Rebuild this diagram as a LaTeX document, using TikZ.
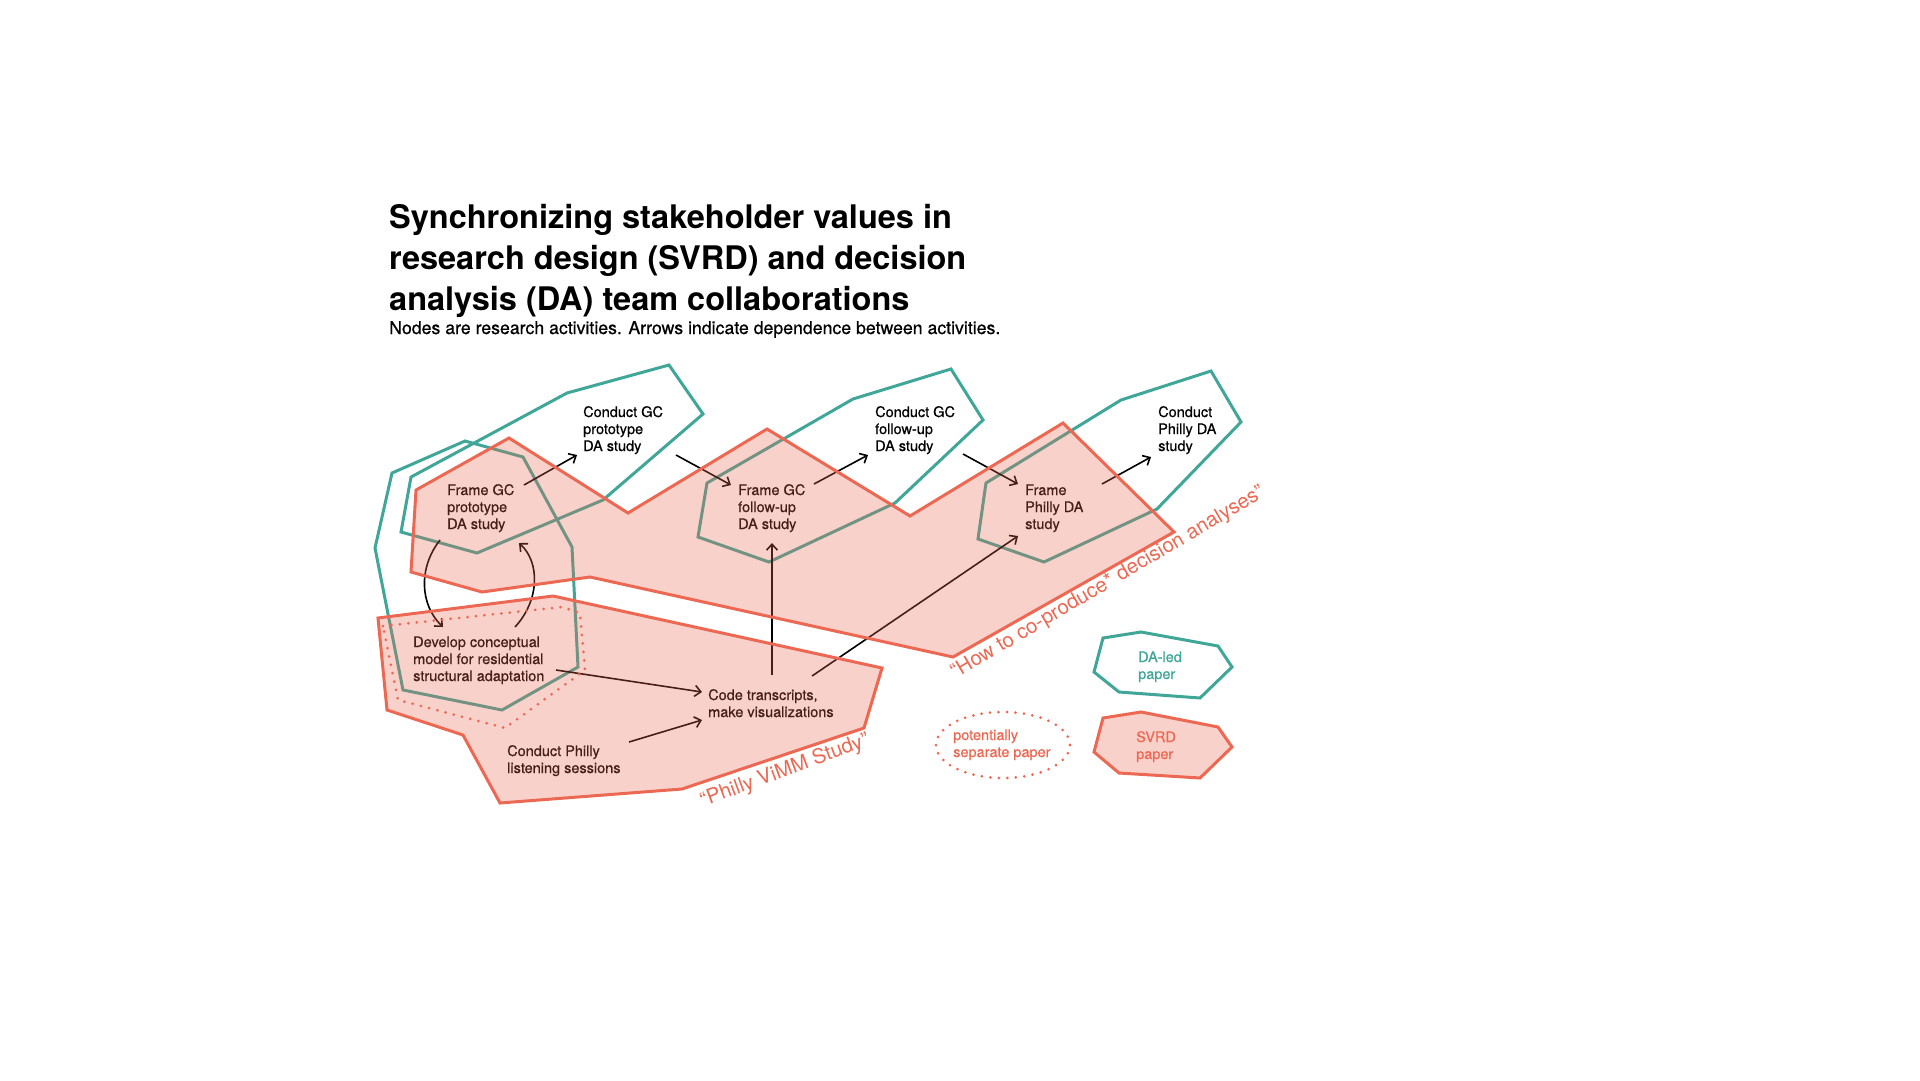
\documentclass[tikz,border=0pt]{standalone}
\usepackage{fontspec}
\setmainfont{TeX Gyre Heros}
\newfontfamily\medfont[FakeBold=0.6]{TeX Gyre Heros}
\usetikzlibrary{arrows.meta}
\definecolor{tealc}{HTML}{40A698}
\definecolor{salm}{HTML}{EC6852}
\begin{document}
\begin{tikzpicture}[x=1pt,y=-1pt,
  tealline/.style={draw=tealc,line width=3pt},
  svrd/.style={draw=salm,line width=3pt,fill=salm,fill opacity=0.3},
  dotline/.style={draw=salm,line width=3pt,dash pattern=on 0pt off 8.5pt,line cap=round},
  lbl/.style={anchor=base west,align=left,inner sep=0pt,font=\medfont\fontsize{14.5}{17}\selectfont},
  leg/.style={anchor=base west,align=left,inner sep=0pt,font=\medfont\fontsize{14.5}{17}\selectfont},
  arr/.style={draw=black,line width=1.6pt,-{Straight Barb[length=6pt,width=11pt]}},
  ]
\useasboundingbox (0,0) rectangle (1920,1080);

% title (base anchor = baseline of last line)
\node[anchor=base west,align=left,inner sep=0pt,font=\bfseries\fontsize{32.5}{41}\selectfont] (title) at (389,310)
  {Synchronizing stakeholder values in\\research design (SVRD) and decision\\analysis (DA) team collaborations};
\node[anchor=base west,inner sep=0pt,font=\medfont\fontsize{17.7}{20}\selectfont] (sub) at (389,334)
  {Nodes are research activities. Arrows indicate dependence between activities.};

% teal (DA-led) outlines
\draw[tealline] (669,365)--(703,414)--(603,500)--(477,553)--(401,532)--(411,477)--(567,393)--cycle;
\draw[tealline] (392,473)--(465,441)--(523,457)--(572,547)--(578,667)--(502,710)--(403,690)--(375,548)--cycle;
\draw[tealline] (951,369)--(983,420)--(895,503)--(769,562)--(698,537)--(707,483)--(853,399)--cycle;
\draw[tealline] (1211,371)--(1241,422)--(1157,509)--(1044,562)--(978,539)--(986,483)--(1121,400)--cycle;

% activity nodes
\node[lbl] (cgp) at (583,451) {Conduct GC\\prototype\\DA study};
\node[lbl] (fgp) at (447,529) {Frame GC\\prototype\\DA study};
\node[lbl] (dev) at (413,681) {Develop conceptual\\model for residential\\structural adaptation};
\node[lbl] (code) at (708,717) {Code transcripts,\\make visualizations};
\node[lbl] (listen) at (507,773) {Conduct Philly\\listening sessions};
\node[lbl] (fgf) at (738,529) {Frame GC\\follow-up\\DA study};
\node[lbl] (cgf) at (875,451) {Conduct GC\\follow-up\\DA study};
\node[lbl] (fpd) at (1025,529) {Frame\\Philly DA\\study};
\node[lbl] (cpd) at (1158,451) {Conduct\\Philly DA\\study};

% arrow end points
\coordinate (fgp1) at (524,485); \coordinate (cgp1) at (577,455);
\coordinate (cgp2) at (676,455); \coordinate (fgf1) at (731,485);
\coordinate (fgf2) at (814,484); \coordinate (cgf1) at (868,455);
\coordinate (cgf2) at (963,454); \coordinate (fpd1) at (1018,484);
\coordinate (fpd2) at (1102,484); \coordinate (cpd1) at (1151,457);
\coordinate (code1) at (772,675); \coordinate (fgf3) at (772,543);
\coordinate (code2) at (812,676); \coordinate (fpd3) at (1018,536);
\coordinate (dev1) at (556,670); \coordinate (code3) at (702,692);
\coordinate (lis1) at (629,742); \coordinate (code4) at (702,720);
\coordinate (fgp2) at (440,540); \coordinate (dev2) at (443,627);
\coordinate (dev3) at (515,627); \coordinate (fgp3) at (519,543);

\draw[arr] (fgp1) -- (cgp1);
\draw[arr] (cgp2) -- (fgf1);
\draw[arr] (fgf2) -- (cgf1);
\draw[arr] (cgf2) -- (fpd1);
\draw[arr] (fpd2) -- (cpd1);
\draw[arr] (code1) -- (fgf3);
\draw[arr] (code2) -- (fpd3);
\draw[arr] (dev1) -- (code3);
\draw[arr] (lis1) -- (code4);
\draw[arr] (fgp2) .. controls (418,568) and (420,605) .. (dev2);
\draw[arr] (dev3) .. controls (540,600) and (540,562) .. (fgp3);

% SVRD (salmon) regions on top
\draw[svrd] (509,438)--(628,513)--(767,429)--(910,516)--(1063,423)--(1174,532)--(953,657)--(590,577)--(482,592)--(411,572)--(416,490)--cycle;
\draw[svrd] (378,618)--(553,596)--(882,668)--(864,728)--(682,789)--(500,803)--(463,735)--(387,710)--cycle;
\draw[dotline] (383,626)--(562,607)--(580,613)--(585,670)--(505,728)--(398,700)--cycle;

% region labels
\node[text=salm,inner sep=0pt,rotate=20.3,font=\fontsize{20.5}{24}\selectfont] (vimm) at (785,771) {“Philly ViMM Study”};
\node[text=salm,inner sep=0pt,rotate=30.5,font=\fontsize{20.5}{24}\selectfont] (coprod) at (1108,583) {“How to co-produce* decision analyses”};

% legend
\draw[tealline] (1103,638)--(1141,632)--(1218,646)--(1232,667)--(1200,698)--(1119,692)--(1094,672)--cycle;
\node[leg,text=tealc] (ldal) at (1138,679) {DA-led\\paper};
\draw[svrd] (1103,718)--(1141,712)--(1218,727)--(1232,747)--(1200,778)--(1119,773)--(1094,752)--cycle;
\node[leg,text=salm] (lsvrd) at (1136,759) {SVRD\\paper};
\draw[dotline] (1003,745) ellipse [x radius=67, y radius=33];
\node[leg,text=salm] (lsep) at (953,757) {potentially\\separate paper};
\end{tikzpicture}
\end{document}
